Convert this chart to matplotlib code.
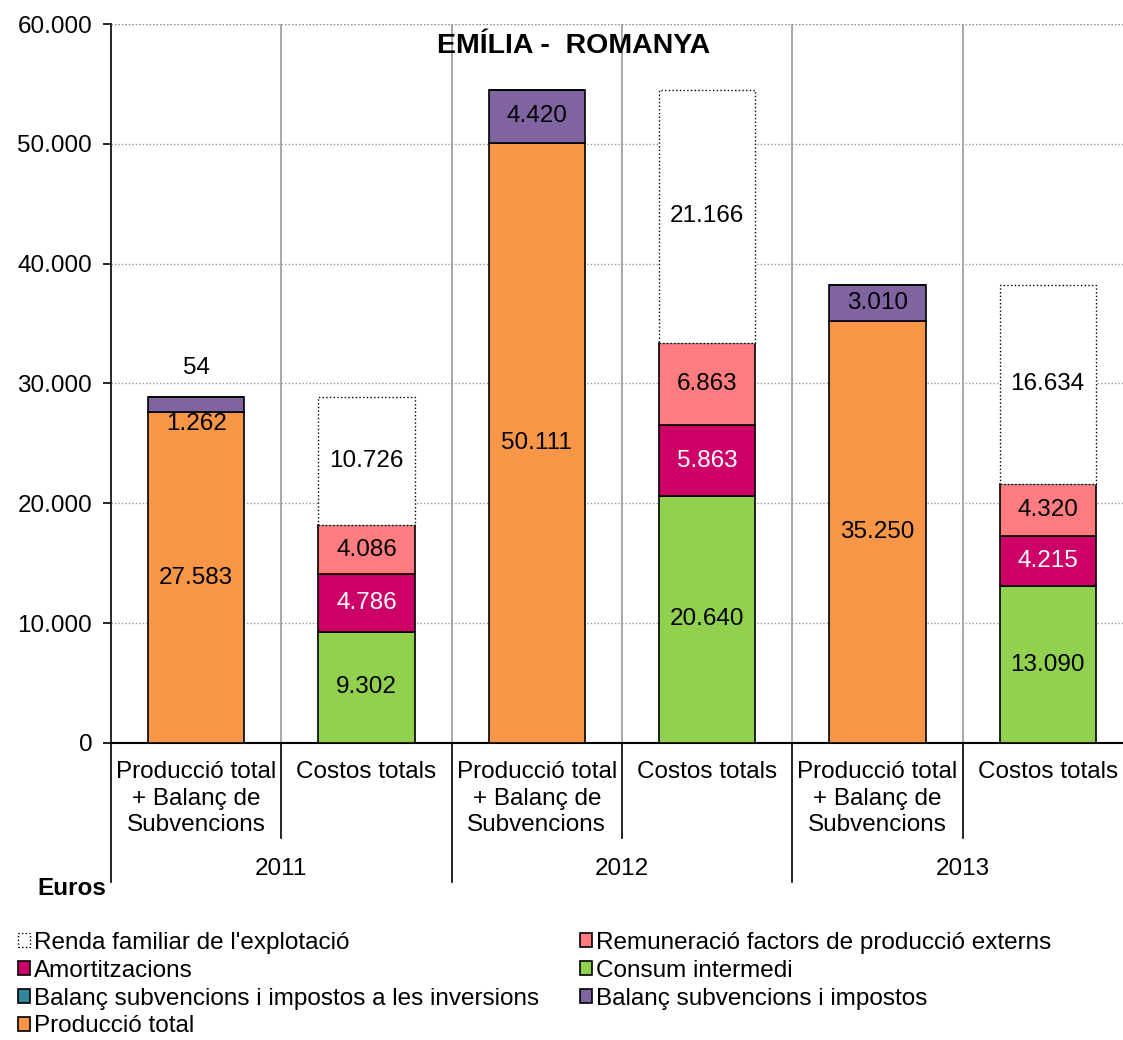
import matplotlib.pyplot as plt
import matplotlib.transforms as mtransforms
import numpy as np

plt.rcParams['font.family'] = ['Liberation Sans', 'DejaVu Sans']

years = ["2011", "2012", "2013"]
cat_labels = ["Producció total\n+ Balanç de\nSubvencions", "Costos totals"] * 3

# income side (one bar per year)
produccio = [27583, 50111, 35250]
balanc_subv = [1262, 4420, 3010]
balanc_inv = [54, 0, 0]
# cost side (one bar per year)
consum = [9302, 20640, 13090]
amortitz = [4786, 5863, 4215]
remuneracio = [4086, 6863, 4320]
renda = [10726, 21166, 16634]

c_prod = "#F79646"
c_subv = "#8064A2"
c_inv = "#31859C"
c_cons = "#92D050"
c_amor = "#CC0066"
c_rem = "#FF7C80"


def fmt(v):
    return f"{v:,}".replace(",", ".")


fig = plt.figure(figsize=(11.23, 10.4), dpi=100)
ax = fig.add_axes([0.0988, 0.2856, 0.910, 0.6913])

w = 0.565
x_inc = np.arange(3) * 2
x_cost = x_inc + 1

kw = dict(width=w, edgecolor="black", linewidth=1.2, zorder=3)
b_prod = ax.bar(x_inc, produccio, color=c_prod, label="Producció total", **kw)
b_subv = ax.bar(x_inc, balanc_subv, bottom=produccio, color=c_subv,
                label="Balanç subvencions i impostos", **kw)
bot_inv = np.array(produccio) + np.array(balanc_subv)
b_inv = ax.bar(x_inc, balanc_inv, bottom=bot_inv, color=c_inv,
               label="Balanç subvencions i impostos a les inversions", **kw)

b_cons = ax.bar(x_cost, consum, color=c_cons, label="Consum intermedi", **kw)
b_amor = ax.bar(x_cost, amortitz, bottom=consum, color=c_amor,
                label="Amortitzacions", **kw)
bot_rem = np.array(consum) + np.array(amortitz)
b_rem = ax.bar(x_cost, remuneracio, bottom=bot_rem, color=c_rem,
               label="Remuneració factors de producció externs", **kw)
bot_ren = bot_rem + np.array(remuneracio)
b_ren = ax.bar(x_cost, renda, bottom=bot_ren, color="white", edgecolor="black",
               linewidth=1.0, linestyle=":", width=w, zorder=3,
               label="Renda familiar de l'explotació")

fs = 17.5


def label_seg(x, bottom, h, color="black", dy=0):
    if h <= 0:
        return
    ax.annotate(fmt(h), (x, bottom + h / 2), xytext=(0, dy),
                textcoords="offset points", ha="center", va="center",
                fontsize=fs, color=color, zorder=5)


for i in range(3):
    label_seg(x_inc[i], 0, produccio[i])
    if balanc_inv[i] > 0:
        # small segment: labels pushed apart like in the original
        label_seg(x_inc[i], produccio[i], balanc_subv[i], dy=-14)
        ax.annotate(fmt(balanc_inv[i]), (x_inc[i], bot_inv[i] + balanc_inv[i]),
                    xytext=(0, 21), textcoords="offset points", ha="center",
                    va="center", fontsize=fs, zorder=5)
    else:
        label_seg(x_inc[i], produccio[i], balanc_subv[i])
    label_seg(x_cost[i], 0, consum[i])
    label_seg(x_cost[i], consum[i], amortitz[i], color="white")
    label_seg(x_cost[i], bot_rem[i], remuneracio[i])
    label_seg(x_cost[i], bot_ren[i], renda[i])

ax.set_xlim(-0.5, 5.5)
ax.set_ylim(0, 60000)
ax.set_yticks(np.arange(0, 60001, 10000))
ax.set_yticklabels([fmt(v) for v in range(0, 60001, 10000)])
ax.tick_params(axis="y", labelsize=fs, direction="out", length=6, width=1.2, pad=7.5)
ax.set_xticks([])
ax.yaxis.grid(True, linestyle=(0, (1, 1.5)), color="#999999", linewidth=1.0, zorder=0)
for s in ["top", "right"]:
    ax.spines[s].set_visible(False)
ax.spines["left"].set_linewidth(1.2)
ax.spines["bottom"].set_linewidth(1.5)

# category separators
for b in np.arange(0.5, 5.5, 1.0):
    ax.axvline(b, color="#999999", linewidth=1.2, zorder=1)
ax.plot([-0.5, 5.5], [60000, 60000], color="#999999", linestyle=(0, (1, 1.5)),
        linewidth=1.0, zorder=1)

# multi-level x axis
trans = mtransforms.blended_transform_factory(ax.transData, ax.transAxes)
for b in np.arange(-0.5, 5.6, 1.0):
    idx = int(round(b + 0.5))
    ybot = -0.193 if idx % 2 == 0 else -0.132
    ax.plot([b, b], [0, ybot], color="black", linewidth=1.2, transform=trans,
            clip_on=False)
for i, lab in enumerate(cat_labels):
    ax.text(i, -0.025, lab, transform=trans, ha="center", va="top",
            fontsize=fs, linespacing=1.27)
for j, yr in enumerate(years):
    ax.text(2 * j + 0.5, -0.175, yr, transform=trans, ha="center", va="center",
            fontsize=fs)

fig.text(0.511, 0.956, "EMÍLIA -  ROMANYA", ha="center", va="center",
         fontsize=20.5, fontweight="bold")
fig.text(0.033, 0.146, "Euros", ha="left", va="center", fontsize=17.5,
         fontweight="bold")

handles = [b_ren, b_amor, b_inv, b_prod, b_rem, b_cons, b_subv]
labels = [h.get_label() for h in handles]
fig.legend(handles, labels, loc="upper left", bbox_to_anchor=(0.016, 0.104),
           ncol=2, frameon=False, fontsize=fs, handlelength=0.5, handleheight=0.5,
           handletextpad=0.15, columnspacing=1.7, labelspacing=0.24,
           borderaxespad=0.0, borderpad=0.0)

fig.savefig("out.png", dpi=100)
